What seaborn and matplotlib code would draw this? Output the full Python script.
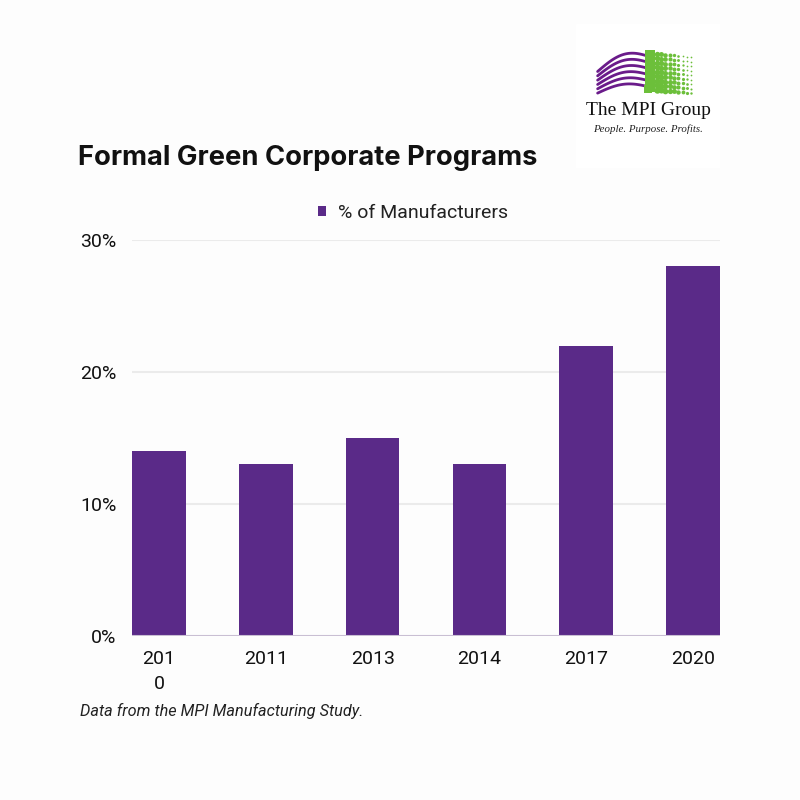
import numpy as np
import pandas as pd
import matplotlib
matplotlib.use("Agg")
import matplotlib.pyplot as plt
import seaborn as sns

years = ["2010", "2011", "2013", "2014", "2017", "2020"]
tick_labels = ["201\n0", "2011", "2013", "2014", "2017", "2020"]
values = [14, 13, 15, 13, 22, 28]
series_name = "% of Manufacturers"
y_ticks = [0, 10, 20, 30]

PURPLE = "#5a2a88"
BG = "#fdfdfd"

sns.set_theme(style="white")
plt.rcParams["font.family"] = ["Roboto", "DejaVu Sans"]

df = pd.DataFrame({"year": years, "value": values})

fig = plt.figure(figsize=(8, 8), dpi=100, facecolor=BG)
ax = fig.add_axes([0.165, 0.205, 0.735, 0.495], facecolor=BG)

sns.barplot(data=df, x="year", y="value", color=PURPLE, width=0.5,
            saturation=1, ax=ax, label=series_name, zorder=3, linewidth=0,
            legend=False)
if ax.get_legend() is not None:
    ax.get_legend().remove()

ax.set_xlim(-0.253, 5.253)
ax.set_ylim(0, 30)
ax.set_yticks(y_ticks)
ax.set_yticklabels([f"{t}%" for t in y_ticks], fontsize=14, color="#111111")
ax.set_xticks(range(len(years)))
ax.set_xticklabels(tick_labels, fontsize=14, color="#111111", linespacing=1.5, va="top")
ax.tick_params(axis="both", length=0)
ax.tick_params(axis="y", pad=11)
ax.tick_params(axis="x", pad=10)
ax.set_xlabel("")
ax.set_ylabel("")
for s in ax.spines.values():
    s.set_visible(False)
for t in [10, 20, 30]:
    ax.axhline(t, color="#ebebeb", lw=1.5, zorder=1)
ax.axhline(0, color="#c9bfd3", lw=1.5, zorder=4)

handles = [ax.patches[0]]
leg = fig.legend(handles, [series_name], loc="center", bbox_to_anchor=(0.516, 0.734),
                 frameon=False, fontsize=14, handlelength=0.42, handleheight=0.42,
                 handletextpad=0.6)
for txt in leg.get_texts():
    txt.set_color("#222222")

fig.text(0.0975, 0.803, "Formal Green Corporate Programs", fontsize=19.7,
         fontweight="bold", family=["Inter", "DejaVu Sans"], color="#111111",
         va="center", ha="left")
fig.text(0.1, 0.111, "Data from the MPI Manufacturing Study.", fontsize=11.7,
         style="italic", color="#222222", va="center", ha="left")

# Logo
lax = fig.add_axes([0.72, 0.79, 0.18, 0.18], facecolor="white")
lax.set_xlim(0, 1)
lax.set_ylim(0, 1)
lax.axis("off")
lax.add_patch(plt.Rectangle((0, 0), 1, 1, color="white", transform=lax.transAxes, zorder=0))
# purple swoosh lines fanning out to the right
xs = np.linspace(0.15, 0.52, 60)
tt = (xs - 0.15) / 0.37
for i in range(6):
    y_left = 0.52 + i * 0.03
    y_right = 0.56 + i * 0.042
    yv = y_left + (y_right - y_left) * tt + 0.07 * np.sin(tt * np.pi) * (0.6 + 0.08 * i)
    lax.plot(xs, yv, color="#6a1b8a", lw=2.0, solid_capstyle="round", zorder=2)
# green dotted block
gx = np.linspace(0.5, 0.8, 11)
gy = np.linspace(0.55, 0.8, 9)
for j, xx in enumerate(gx):
    for k, yy in enumerate(gy):
        size = max(1.5, 26 - j * 2.3 - k * 0.8)
        lax.scatter(xx, yy - 0.03 * (j / 10), s=size, color="#6cbf3a",
                    marker="s" if j < 2 else "o", zorder=2, linewidths=0)
lax.text(0.5, 0.40, "The MPI Group", ha="center", va="center", fontsize=14,
         family=["Liberation Serif", "DejaVu Serif"], color="#111111")
lax.text(0.5, 0.27, "People. Purpose. Profits.", ha="center", va="center", fontsize=7.8,
         style="italic", family=["Liberation Serif", "DejaVu Serif"], color="#222222")

fig.savefig("out.png", dpi=100, facecolor=BG)
